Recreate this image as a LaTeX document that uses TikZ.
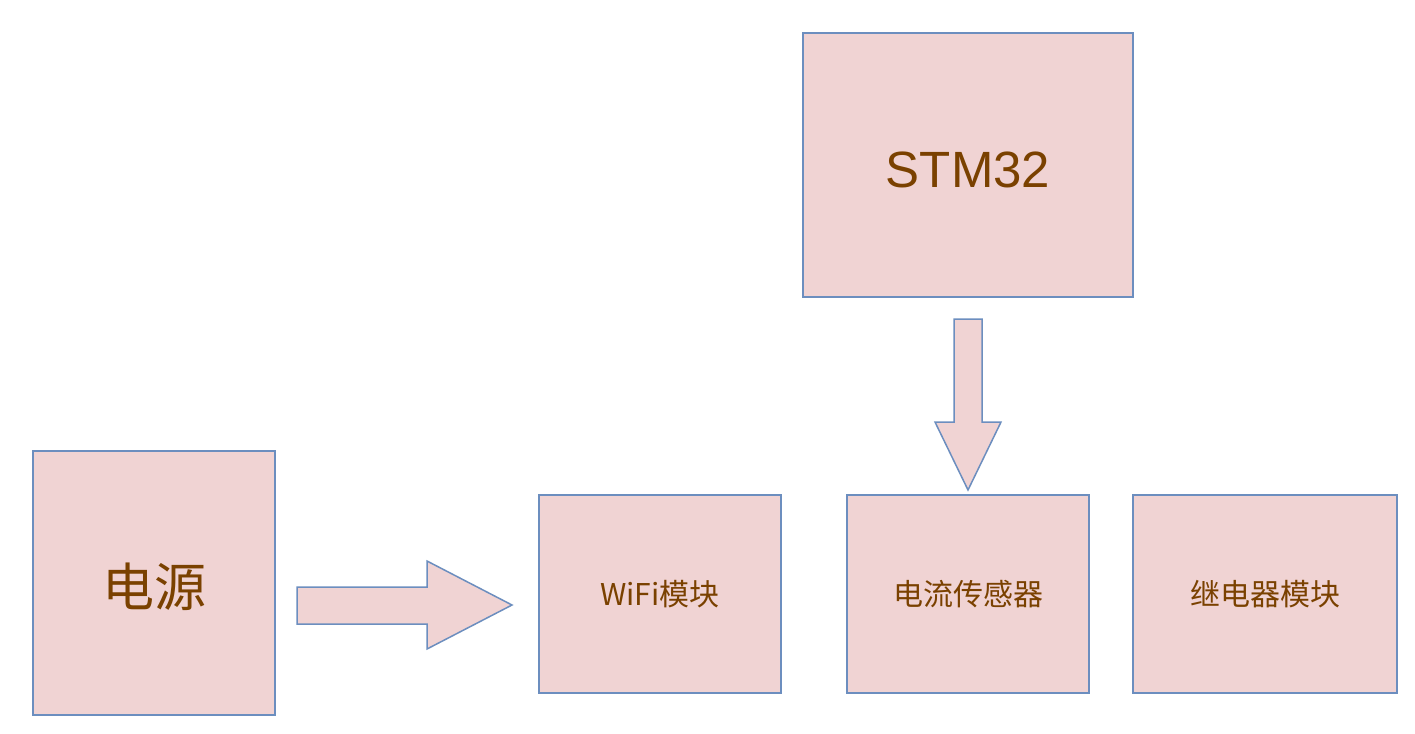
\documentclass[tikz,border=0pt]{standalone}
\usepackage{fontspec}
\setmainfont{Liberation Sans}
\newfontfamily\cjk{Noto Sans CJK SC}
\definecolor{boxfill}{HTML}{F0D3D3}
\definecolor{boxline}{HTML}{6C8EBF}
\definecolor{label}{HTML}{7A4100}
\tikzset{
  block/.style={rectangle,draw=boxline,fill=boxfill,line width=1.5pt,inner sep=0pt,text=label},
  bigtxt/.style={font=\fontsize{51}{60}\selectfont,text height=44.5pt,text depth=0pt},
  smalltxt/.style={font=\cjk\fontsize{30}{36}\selectfont},
  barrow/.style={draw=boxline,fill=boxfill,line width=1.5pt,line join=miter}
}

\begin{document}
\begin{tikzpicture}[x=1pt,y=-1pt]
  \useasboundingbox[fill=white] (0,0) rectangle (1415,733);
  \node[block,bigtxt,minimum width=330pt,minimum height=264pt] (stm) at (968,165) {STM32};
  \node[block,font=\cjk\fontsize{52}{60}\selectfont,text height=52.5pt,text depth=6.2pt,
        minimum width=242pt,minimum height=264pt] (pwr) at (154,583) {电源};
  \node[block,smalltxt,minimum width=242pt,minimum height=198pt] (wifi) at (660,594) {WiFi模块};
  \node[block,smalltxt,minimum width=242pt,minimum height=198pt] (sensor) at (968,594) {电流传感器};
  \node[block,smalltxt,minimum width=264pt,minimum height=198pt] (relay) at (1265,594) {继电器模块};
  % block arrows
  \draw[barrow] (297,587) -- (427,587) -- (427,561) -- (512,605) -- (427,649) -- (427,624) -- (297,624) -- cycle;
  \draw[barrow] (954,319) -- (982,319) -- (982,422) -- (1001,422) -- (968,490) -- (935,422) -- (954,422) -- cycle;
\end{tikzpicture}
\end{document}
